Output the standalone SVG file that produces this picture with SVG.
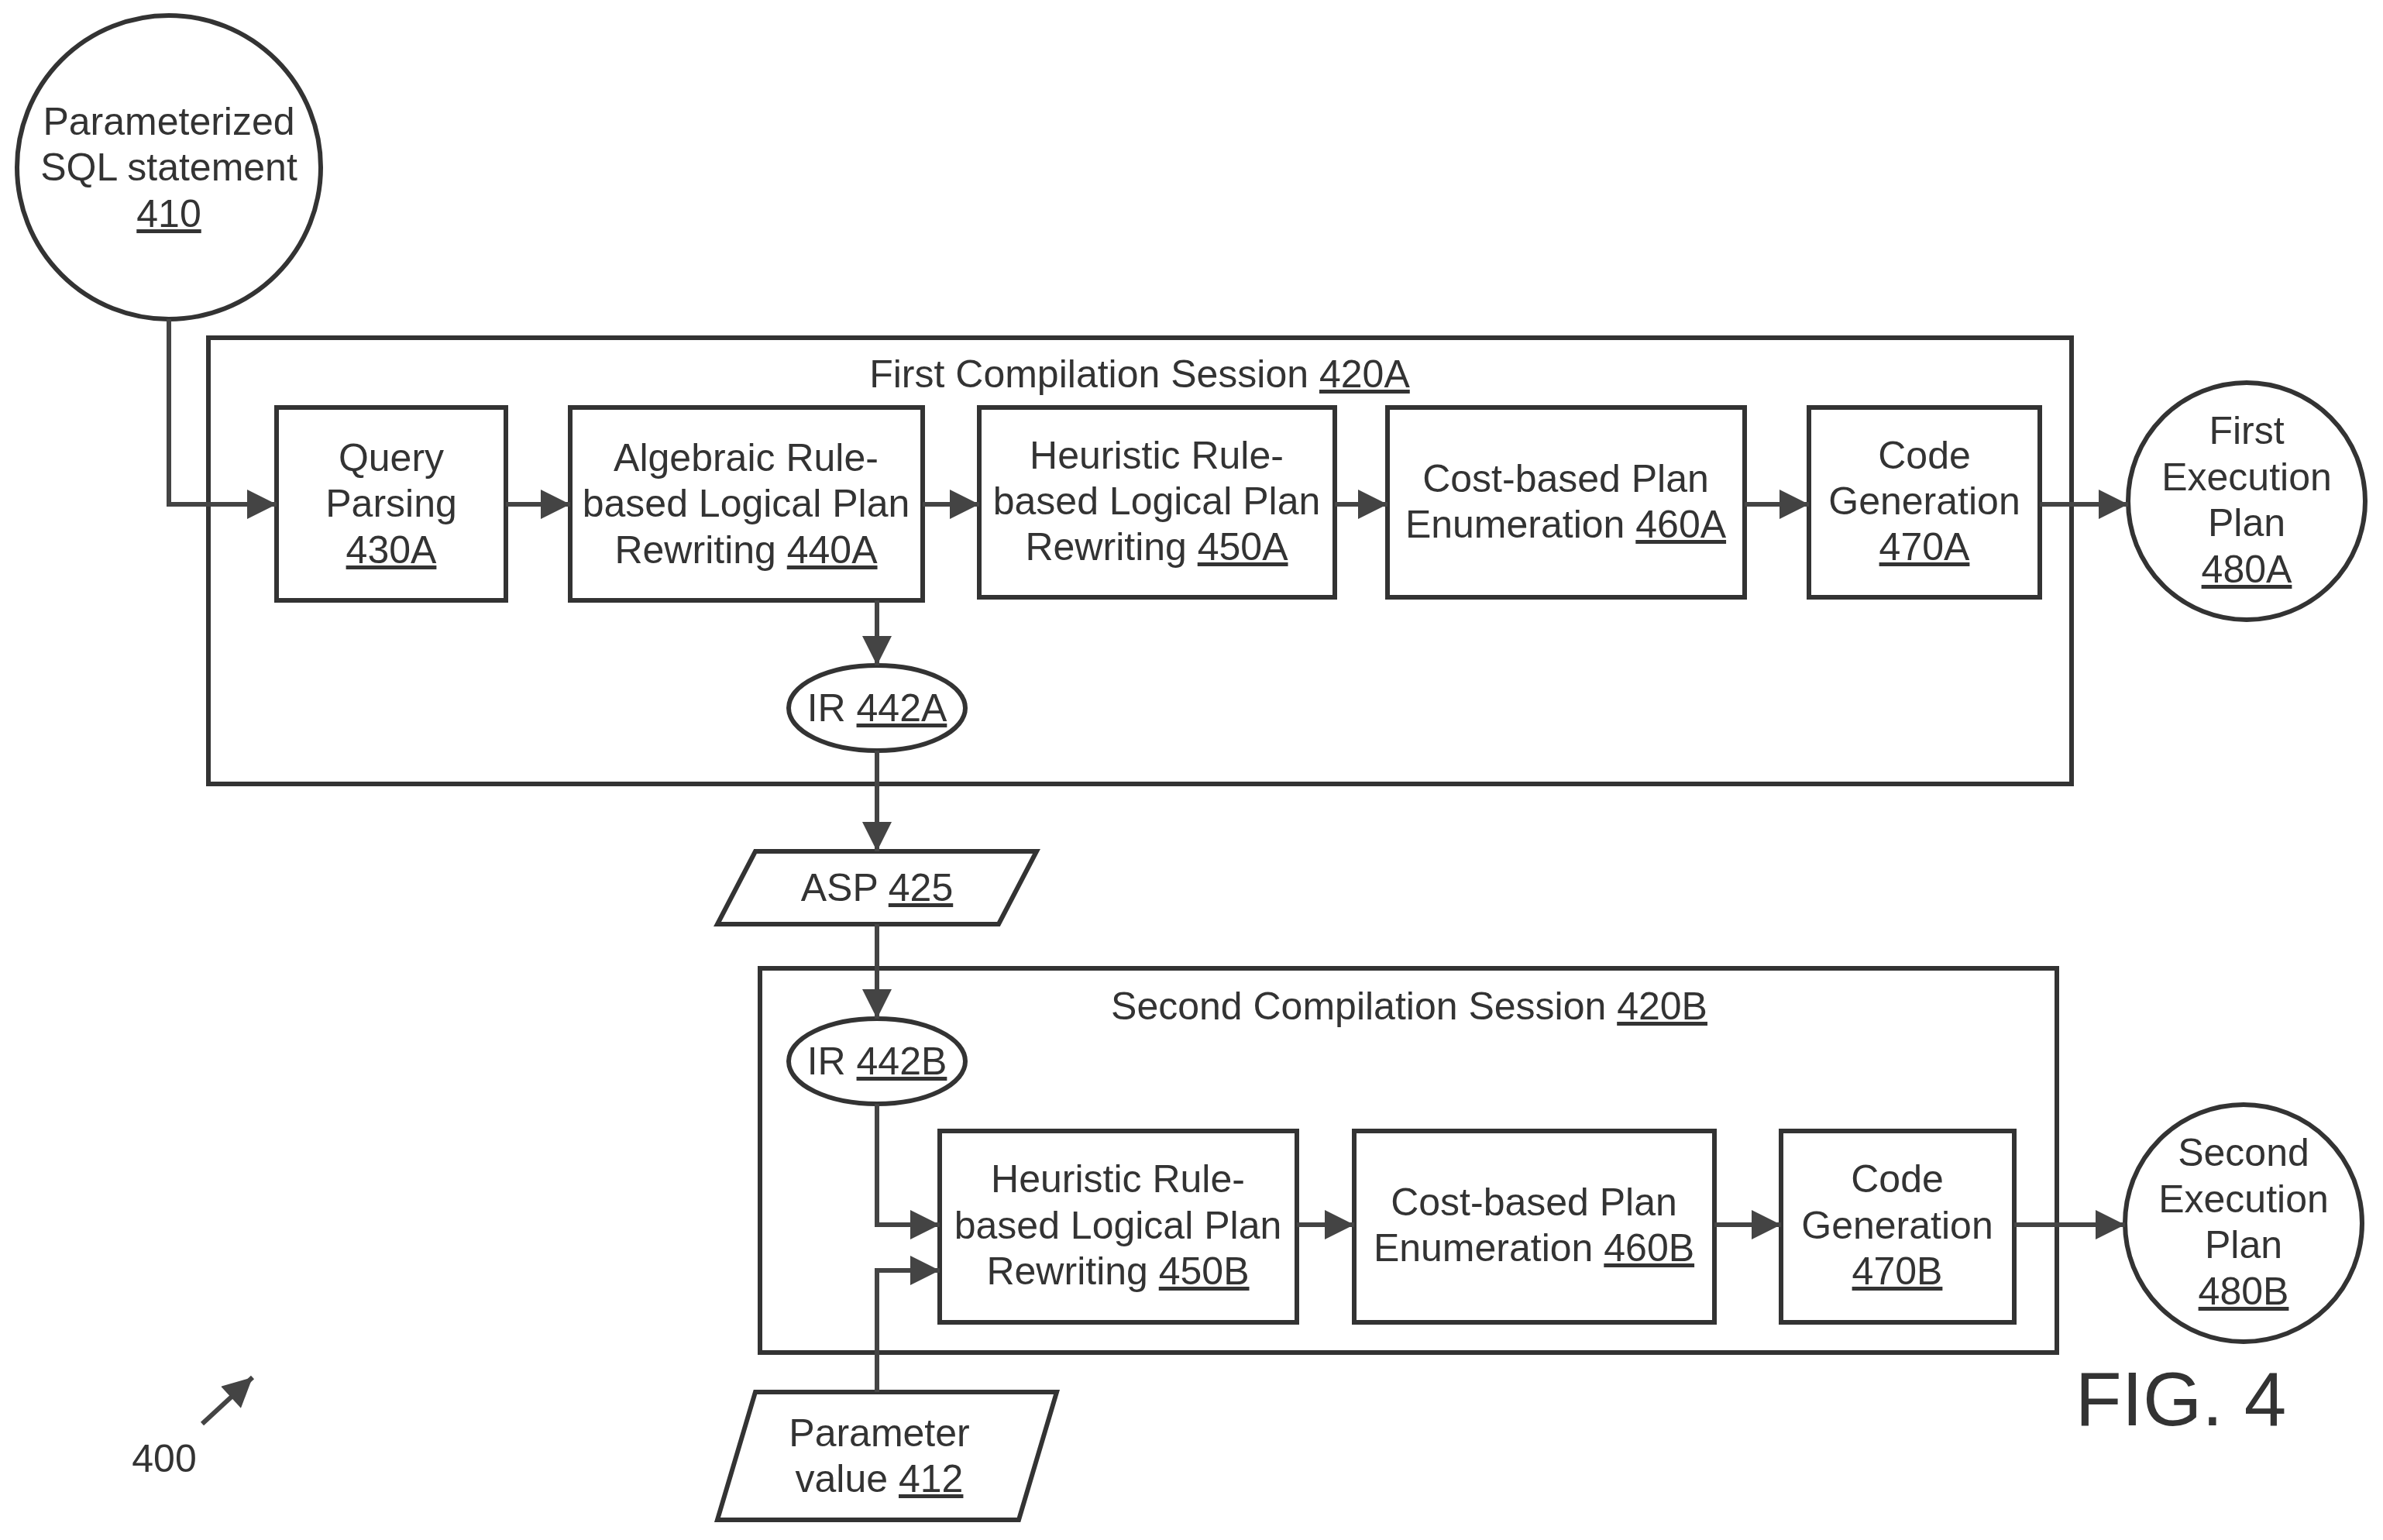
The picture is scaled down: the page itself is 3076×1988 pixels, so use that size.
<svg xmlns="http://www.w3.org/2000/svg" width="3076" height="1988" viewBox="0 0 3076 1988">
<defs>
<marker id="a" viewBox="0 0 10 10" refX="10" refY="5" markerWidth="42" markerHeight="38" markerUnits="userSpaceOnUse" orient="auto"><path d="M0,0 L10,5 L0,10 z" fill="#444"/></marker>
</defs>
<style>
.b{fill:#fff;stroke:#333;stroke-width:6}
.t{font-family:"Liberation Sans",Arial,sans-serif;font-size:50px;fill:#333;text-anchor:middle}
.u{text-decoration:underline}
.c{fill:none;stroke:#444;stroke-width:6;marker-end:url(#a)}
</style>
<rect width="3076" height="1988" fill="#fff"/>
<g id="n410"><circle class="b" cx="218" cy="216" r="196"/>
<text class="t" x="218" y="174">Parameterized</text><text class="t" x="218" y="233">SQL statement</text><text class="t u" x="218" y="293">410</text></g>
<g id="s420A"><rect class="b" x="269" y="436" width="2405" height="576"/>
<text class="t" x="1471" y="500">First Compilation Session <tspan class="u">420A</tspan></text></g>
<g id="n430A"><rect class="b" x="357" y="526" width="296" height="249"/>
<text class="t" x="505" y="608">Query</text><text class="t" x="505" y="667">Parsing</text><text class="t u" x="505" y="727">430A</text></g>
<g id="n440A"><rect class="b" x="736" y="526" width="455" height="249"/>
<text class="t" x="963" y="608">Algebraic Rule-</text><text class="t" x="963" y="667">based Logical Plan</text><text class="t" x="963" y="727">Rewriting <tspan class="u">440A</tspan></text></g>
<g id="n450A"><rect class="b" x="1264" y="526" width="459" height="245"/>
<text class="t" x="1493" y="605">Heuristic Rule-</text><text class="t" x="1493" y="664">based Logical Plan</text><text class="t" x="1493" y="723">Rewriting <tspan class="u">450A</tspan></text></g>
<g id="n460A"><rect class="b" x="1791" y="526" width="461" height="245"/>
<text class="t" x="2021" y="635">Cost-based Plan</text><text class="t" x="2021" y="694">Enumeration <tspan class="u">460A</tspan></text></g>
<g id="n470A"><rect class="b" x="2335" y="526" width="298" height="245"/>
<text class="t" x="2484" y="605">Code</text><text class="t" x="2484" y="664">Generation</text><text class="t u" x="2484" y="723">470A</text></g>
<g id="n480A"><circle class="b" cx="2900" cy="647" r="153"/>
<text class="t" x="2900" y="573">First</text><text class="t" x="2900" y="633">Execution</text><text class="t" x="2900" y="692">Plan</text><text class="t u" x="2900" y="752">480A</text></g>
<g id="n442A"><ellipse class="b" cx="1132" cy="914" rx="114" ry="55"/>
<text class="t" x="1132" y="931">IR <tspan class="u">442A</tspan></text></g>
<g id="n425"><polygon class="b" points="975,1099 1338,1099 1289,1193 926,1193"/>
<text class="t" x="1132" y="1163">ASP <tspan class="u">425</tspan></text></g>
<g id="s420B"><rect class="b" x="981" y="1250" width="1674" height="496"/>
<text class="t" x="1819" y="1316">Second Compilation Session <tspan class="u">420B</tspan></text></g>
<g id="n442B"><ellipse class="b" cx="1132" cy="1370" rx="114" ry="55"/>
<text class="t" x="1132" y="1387">IR <tspan class="u">442B</tspan></text></g>
<g id="n450B"><rect class="b" x="1213" y="1460" width="461" height="247"/>
<text class="t" x="1443" y="1539">Heuristic Rule-</text><text class="t" x="1443" y="1599">based Logical Plan</text><text class="t" x="1443" y="1658">Rewriting <tspan class="u">450B</tspan></text></g>
<g id="n460B"><rect class="b" x="1748" y="1460" width="465" height="247"/>
<text class="t" x="1980" y="1569">Cost-based Plan</text><text class="t" x="1980" y="1628">Enumeration <tspan class="u">460B</tspan></text></g>
<g id="n470B"><rect class="b" x="2299" y="1460" width="301" height="247"/>
<text class="t" x="2449" y="1539">Code</text><text class="t" x="2449" y="1599">Generation</text><text class="t u" x="2449" y="1658">470B</text></g>
<g id="n480B"><circle class="b" cx="2896" cy="1579" r="153"/>
<text class="t" x="2896" y="1505">Second</text><text class="t" x="2896" y="1565">Execution</text><text class="t" x="2896" y="1624">Plan</text><text class="t u" x="2896" y="1684">480B</text></g>
<g id="n412"><polygon class="b" points="975,1797 1364,1797 1315,1962 926,1962"/>
<text class="t" x="1135" y="1867">Parameter</text><text class="t" x="1135" y="1926">value <tspan class="u">412</tspan></text></g>
<g id="connectors">
<path class="c" d="M218,412 V651 H357"/>
<path class="c" d="M653,651 H736"/>
<path class="c" d="M1191,651 H1264"/>
<path class="c" d="M1723,651 H1791"/>
<path class="c" d="M2252,651 H2335"/>
<path class="c" d="M2633,651 H2747"/>
<path class="c" d="M1132,775 V859"/>
<path class="c" d="M1132,969 V1099"/>
<path class="c" d="M1132,1193 V1315"/>
<path class="c" d="M1132,1425 V1581 H1213"/>
<path class="c" d="M1132,1797 V1640 H1213"/>
<path class="c" d="M1674,1581 H1748"/>
<path class="c" d="M2213,1581 H2299"/>
<path class="c" d="M2600,1581 H2743"/>
<path class="c" d="M261,1838 L326,1778"/>
</g>
<text class="t" x="212" y="1900">400</text>
<text class="t" x="2815" y="1840" style="font-size:98px">FIG. 4</text>
</svg>
